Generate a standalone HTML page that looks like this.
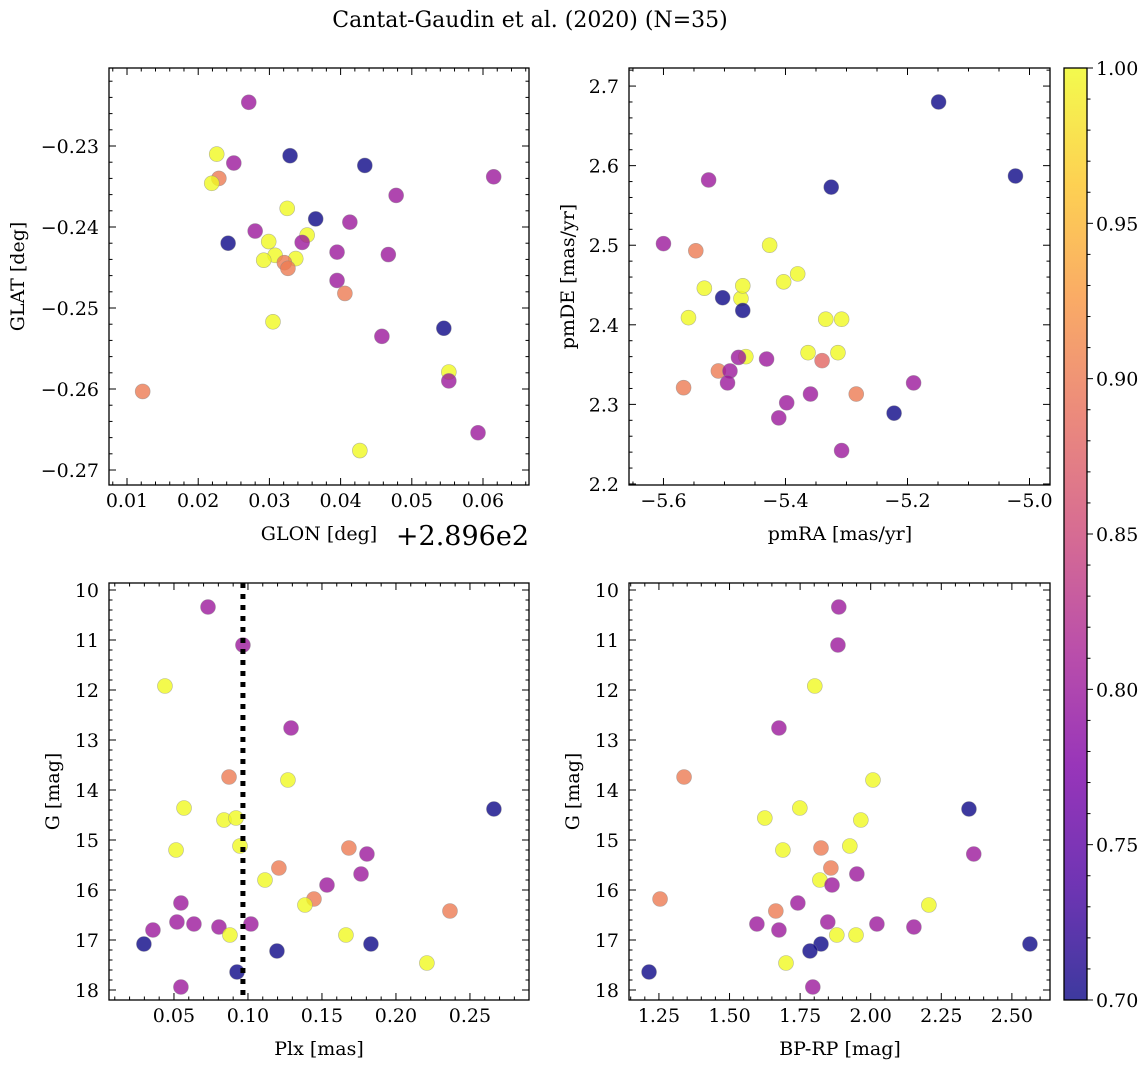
<!DOCTYPE html>
<html><head><meta charset="utf-8">
<style>
html,body{margin:0;padding:0;background:#fff;}
svg{display:block;font-family:"DejaVu Serif","Liberation Serif",serif;}
</style></head>
<body>
<svg id="fig" width="1148" height="1067" viewBox="0 0 1148 1067" xmlns="http://www.w3.org/2000/svg">
<defs>
<linearGradient id="plasma" x1="0" y1="1" x2="0" y2="0">
<stop offset="0" stop-color="#0d0887"/><stop offset="0.125" stop-color="#4c02a1"/><stop offset="0.25" stop-color="#7e03a8"/><stop offset="0.375" stop-color="#a92395"/><stop offset="0.5" stop-color="#cc4778"/><stop offset="0.625" stop-color="#e66c5c"/><stop offset="0.75" stop-color="#f89540"/><stop offset="0.875" stop-color="#fdc527"/><stop offset="1" stop-color="#f0f921"/>
</linearGradient>
</defs>
<text x="530" y="27" font-size="22" text-anchor="middle">Cantat-Gaudin et al. (2020) (N=35)</text>
</svg>
<script>
// Panel 1: GLON (offset +289.6) vs GLAT
const glonX = [0.0271,0.0226,0.0329,0.0250,0.0434,0.0229,0.0219,0.0615,0.0478,0.0325,0.0365,0.0413,0.0242,0.0280,0.0353,0.0299,0.0346,0.0395,0.0308,0.0292,0.0337,0.0321,0.0326,0.0467,0.0395,0.0406,0.0305,0.0545,0.0458,0.0122,0.0552,0.0552,0.0593,0.0427];
const glatY = [-0.2246,-0.2310,-0.2312,-0.2321,-0.2324,-0.2340,-0.2346,-0.2338,-0.2361,-0.2377,-0.2390,-0.2394,-0.2420,-0.2405,-0.2410,-0.2418,-0.2419,-0.2431,-0.2435,-0.2441,-0.2439,-0.2444,-0.2451,-0.2434,-0.2466,-0.2482,-0.2517,-0.2525,-0.2535,-0.2603,-0.2579,-0.2590,-0.2654,-0.2676];
const probA = [0.8,1.0,0.7,0.8,0.7,0.9,1.0,0.8,0.8,1.0,0.7,0.8,0.7,0.8,1.0,1.0,0.8,0.8,1.0,1.0,1.0,0.9,0.9,0.8,0.8,0.9,1.0,0.7,0.8,0.9,1.0,0.8,0.8,1.0];
// Panel 2: pmRA vs pmDE
const pmRA = [-5.149,-5.325,-5.023,-5.526,-5.600,-5.547,-5.473,-5.503,-5.533,-5.559,-5.470,-5.470,-5.426,-5.403,-5.380,-5.334,-5.308,-5.363,-5.314,-5.465,-5.477,-5.431,-5.340,-5.510,-5.491,-5.495,-5.567,-5.190,-5.398,-5.359,-5.284,-5.411,-5.222,-5.308];
const pmDE = [2.680,2.573,2.587,2.582,2.502,2.493,2.433,2.434,2.446,2.409,2.449,2.418,2.500,2.454,2.464,2.407,2.407,2.365,2.365,2.360,2.359,2.357,2.355,2.342,2.342,2.327,2.321,2.327,2.302,2.313,2.313,2.283,2.289,2.242];
const probB = [0.7,0.7,0.7,0.8,0.8,0.9,1.0,0.7,1.0,1.0,1.0,0.7,1.0,1.0,1.0,1.0,1.0,1.0,1.0,1.0,0.8,0.8,0.88,0.9,0.8,0.8,0.9,0.8,0.8,0.8,0.9,0.8,0.7,0.8];
// Panels 3 & 4: Plx, BP-RP vs G
const plx = [0.0730,0.0966,0.0439,0.1291,0.0872,0.1270,0.0568,0.2662,0.0838,0.0919,0.0946,0.0514,0.1682,0.1804,0.1209,0.1764,0.1115,0.1534,0.1446,0.1385,0.0547,0.2365,0.0520,0.0635,0.1020,0.0804,0.0358,0.0878,0.1662,0.0297,0.1831,0.1196,0.2209,0.0926,0.0547];
const bprp = [1.887,1.884,1.802,1.675,1.339,2.008,1.749,2.348,1.965,1.625,1.926,1.689,1.824,2.365,1.859,1.951,1.820,1.863,1.254,2.206,1.742,1.664,1.848,1.597,2.022,2.153,1.675,1.880,1.948,2.564,1.824,1.785,1.700,1.215,1.795];
const gmag = [10.34,11.10,11.92,12.76,13.74,13.80,14.36,14.38,14.60,14.56,15.12,15.20,15.16,15.28,15.56,15.68,15.80,15.90,16.18,16.30,16.26,16.42,16.64,16.68,16.68,16.74,16.80,16.90,16.90,17.08,17.08,17.22,17.46,17.64,17.94];
const probC = [0.8,0.8,1.0,0.8,0.9,1.0,1.0,0.7,1.0,1.0,1.0,1.0,0.9,0.8,0.9,0.8,1.0,0.8,0.9,1.0,0.8,0.9,0.8,0.8,0.8,0.8,0.8,1.0,1.0,0.7,0.7,0.7,1.0,0.7,0.8];
const plxLine = 0.0966;
const cbTicks = [0.70,0.75,0.80,0.85,0.90,0.95,1.00];

const NS = "http://www.w3.org/2000/svg";
const svg = document.getElementById('fig');
const FS = 19;
function mk(tag, attrs, parent){const e=document.createElementNS(NS,tag);for(const k in attrs)e.setAttribute(k,attrs[k]);(parent||svg).appendChild(e);return e;}

const stops=[[0,[13,8,135]],[0.125,[76,2,161]],[0.25,[126,3,168]],[0.375,[169,35,149]],[0.5,[204,71,120]],[0.625,[230,108,92]],[0.75,[248,149,64]],[0.875,[253,197,39]],[1,[240,249,33]]];
function plasma(v){let t=(v-0.7)/0.3;t=Math.max(0,Math.min(1,t));for(let i=1;i<stops.length;i++){if(t<=stops[i][0]){const a=stops[i-1],b=stops[i];const f=(t-a[0])/(b[0]-a[0]);const c=a[1].map((x,j)=>Math.round(x+(b[1][j]-x)*f));return `rgb(${c[0]},${c[1]},${c[2]})`;}}return 'rgb(240,249,33)';}

function fmt(v,d){let s=Math.abs(v).toFixed(d);return (v< -1e-12?'\u2212':'')+s;}

function panel(o){
  const g=mk('g',{});
  
  
  const L=o.box[0],T=o.box[1],R=o.box[2],B=o.box[3];
  const sx=v=>L+(v-o.xl[0])/(o.xl[1]-o.xl[0])*(R-L);
  const sy=v=>o.yinv? T+(v-o.yl[0])/(o.yl[1]-o.yl[0])*(B-T) : B-(v-o.yl[0])/(o.yl[1]-o.yl[0])*(B-T);
  const tg=mk('g',{stroke:'#000','stroke-width':1},g);
  
  
  const eps=1e-9;
  const xlo=Math.min(...o.xl),xhi=Math.max(...o.xl),ylo=Math.min(...o.yl),yhi=Math.max(...o.yl);
  for(let k=Math.ceil(xlo/o.xmin-eps);k*o.xmin<=xhi+eps;k++){const v=k*o.xmin;const x=sx(v);const maj=Math.abs(v/o.xmaj-Math.round(v/o.xmaj))<1e-6;const l=maj?7:3.5;
    mk('line',{x1:x,y1:B,x2:x,y2:B-l},tg);mk('line',{x1:x,y1:T,x2:x,y2:T+l},tg);
    if(maj){const t=mk('text',{x:x,y:B+22,'font-size':FS,'text-anchor':'middle',stroke:'none',fill:'#000'},g);t.textContent=fmt(v,o.xd);
      
      }}
  for(let k=Math.ceil(ylo/o.ymin-eps);k*o.ymin<=yhi+eps;k++){const v=k*o.ymin;const y=sy(v);const maj=Math.abs(v/o.ymaj-Math.round(v/o.ymaj))<1e-6;const l=maj?7:3.5;
    mk('line',{x1:L,y1:y,x2:L+l,y2:y},tg);mk('line',{x1:R,y1:y,x2:R-l,y2:y},tg);
    if(maj){const t=mk('text',{x:L-10,y:y+7,'font-size':FS,'text-anchor':'end',stroke:'none',fill:'#000'},g);t.textContent=fmt(v,o.yd);
      
      }}
  const pg=mk('g',{},g);
  
  
  for(let i=0;i<o.x.length;i++){const c=mk('circle',{cx:sx(o.x[i]),cy:sy(o.y[i]),r:7.5,fill:plasma(o.c[i]),'fill-opacity':0.8,stroke:'#888','stroke-opacity':0.6,'stroke-width':0.6},pg);
    
    }
  if(o.vline!==undefined){const l=mk('line',{x1:sx(o.vline),y1:T,x2:sx(o.vline),y2:B,stroke:'#000','stroke-width':5,'stroke-dasharray':'5,6'},g);
    
    }
  const fr=mk('rect',{x:L,y:T,width:R-L,height:B-T,fill:'none',stroke:'#000','stroke-width':1.3},g);
  
  
  const xl=mk('text',{x:o.xlab[1],y:B+55,'font-size':FS,'text-anchor':'middle'},g);xl.textContent=o.xlab[0];
  
  
  const yx=o.ylab[1],yc=(T+B)/2;
  const yl=mk('text',{x:yx,y:yc,'font-size':FS,'text-anchor':'middle',transform:`rotate(-90 ${yx} ${yc})`},g);yl.textContent=o.ylab[0];
  
  
}

panel({name:'glon-glat-panel',box:[109,68,529,485],xl:[0.00747,0.06646],yl:[-0.27185,-0.22037],x:glonX,y:glatY,c:probA,xmaj:0.01,xmin:0.002,ymaj:0.01,ymin:0.002,xd:2,yd:2,xlab:['GLON [deg]',319],ylab:['GLAT [deg]',24]});
const off=mk('text',{x:529,y:545,'font-size':27,'text-anchor':'end'});off.textContent='+2.896e2';


panel({name:'proper-motion-panel',box:[629,68,1050,485],xl:[-5.6565,-4.9664],yl:[2.1987,2.7227],x:pmRA,y:pmDE,c:probB,xmaj:0.2,xmin:0.05,ymaj:0.1,ymin:0.02,xd:1,yd:1,xlab:['pmRA [mas/yr]',840],ylab:['pmDE [mas/yr]',574]});
panel({name:'plx-g-panel',box:[109,583,529,1000],xl:[0.0061,0.2899],yl:[9.86,18.2],yinv:true,x:plx,y:gmag,c:probC,xmaj:0.05,xmin:0.01,ymaj:1,ymin:0.2,xd:2,yd:0,xlab:['Plx [mas]',319],ylab:['G [mag]',59],vline:plxLine});
panel({name:'cmd-panel',box:[629,583,1050,1000],xl:[1.144,2.635],yl:[9.86,18.2],yinv:true,x:bprp,y:gmag,c:probC,xmaj:0.25,xmin:0.05,ymaj:1,ymin:0.2,xd:2,yd:0,xlab:['BP-RP [mag]',840],ylab:['G [mag]',579]});

const cb=mk('g',{});


const CL=1064,CR=1087,CT=68,CB=1000;
const cy=v=>CB-(v-0.7)/0.3*(CB-CT);
mk('rect',{x:CL,y:CT,width:CR-CL,height:CB-CT,fill:'url(#plasma)','fill-opacity':0.8},cb);
for(let k=70;k<=100;k++){const v=k/100;const y=cy(v);const maj=k%5===0;
  mk('line',{x1:CR,y1:y,x2:CR+(maj?6:3.5),y2:y,stroke:'#000','stroke-width':1},cb);}
cbTicks.forEach(v=>{const t=mk('text',{x:CR+9,y:cy(v)+7,'font-size':FS},cb);t.textContent=v.toFixed(2);
  
  });
mk('rect',{x:CL,y:CT,width:CR-CL,height:CB-CT,fill:'none',stroke:'#000','stroke-width':1.3},cb);
</script>
</body></html>
